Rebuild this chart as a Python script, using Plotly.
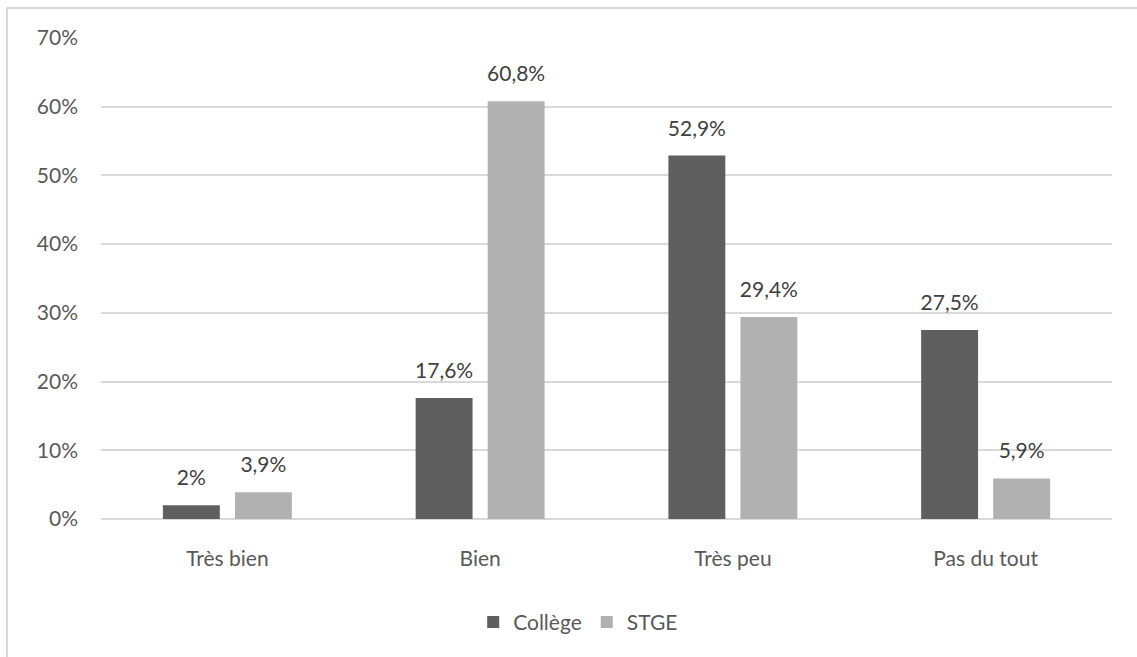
import plotly.graph_objects as go

categories = ["Très bien", "Bien", "Très peu", "Pas du tout"]
college = [2.0, 17.6, 52.9, 27.5]
stge = [3.9, 60.8, 29.4, 5.9]
series_names = ["Collège", "STGE"]
y_ticks = [0, 10, 20, 30, 40, 50, 60, 70]

def fmt(v):
    s = ("%g" % v).replace(".", ",")
    return s + "%"

FONT = "Lato"
FS = 21
colors = ["#5f5f5f", "#b1b1b1"]
fig = go.Figure()
for name, vals, col in zip(series_names, [college, stge], colors):
    fig.add_trace(go.Bar(x=categories, y=vals, name=name,
                         marker=dict(color=col, line=dict(width=0)),
                         hoverinfo="x+y"))
for name, vals in zip(series_names, [college, stge]):
    fig.add_trace(go.Scatter(x=categories, y=vals, mode="markers+text",
                             text=[fmt(v) for v in vals], textposition="top center",
                             marker=dict(size=22, opacity=0), showlegend=False,
                             hoverinfo="skip", cliponaxis=False,
                             textfont=dict(color="#404040", size=FS, family=FONT)))

fig.update_layout(
    width=1137, height=657,
    margin=dict(l=101, r=25, t=38, b=138),
    paper_bgcolor="white", plot_bgcolor="white",
    barmode="group", bargap=0.43, bargroupgap=0.21,
    scattermode="group", scattergap=0.43,
    font=dict(family=FONT, size=FS, color="#595959"),
    showlegend=True,
    legend=dict(orientation="h", x=0.472, xanchor="center", y=-0.215, yanchor="middle",
                font=dict(size=FS, color="#595959", family=FONT),
                itemwidth=30, tracegroupgap=0),
    shapes=[dict(type="rect", xref="paper", yref="paper",
                 x0=-0.093, x1=1.2, y0=-0.5, y1=1.0624,
                 line=dict(color="#d9d9d9", width=2), fillcolor="rgba(0,0,0,0)",
                 layer="below")],
)
fig.update_yaxes(range=[0, 70], tickvals=y_ticks, ticktext=[f"{t}%" for t in y_ticks],
                 showgrid=True, gridcolor="#d9d9d9", gridwidth=1.5,
                 zeroline=True, zerolinecolor="#d9d9d9", zerolinewidth=1.5,
                 showline=False, ticks="", ticklabelstandoff=22,
                 tickfont=dict(size=FS, color="#595959", family=FONT))
fig.update_xaxes(showgrid=False, showline=False, ticks="", ticklabelstandoff=25,
                 tickfont=dict(size=FS, color="#595959", family=FONT))

fig.write_html("out.html")
